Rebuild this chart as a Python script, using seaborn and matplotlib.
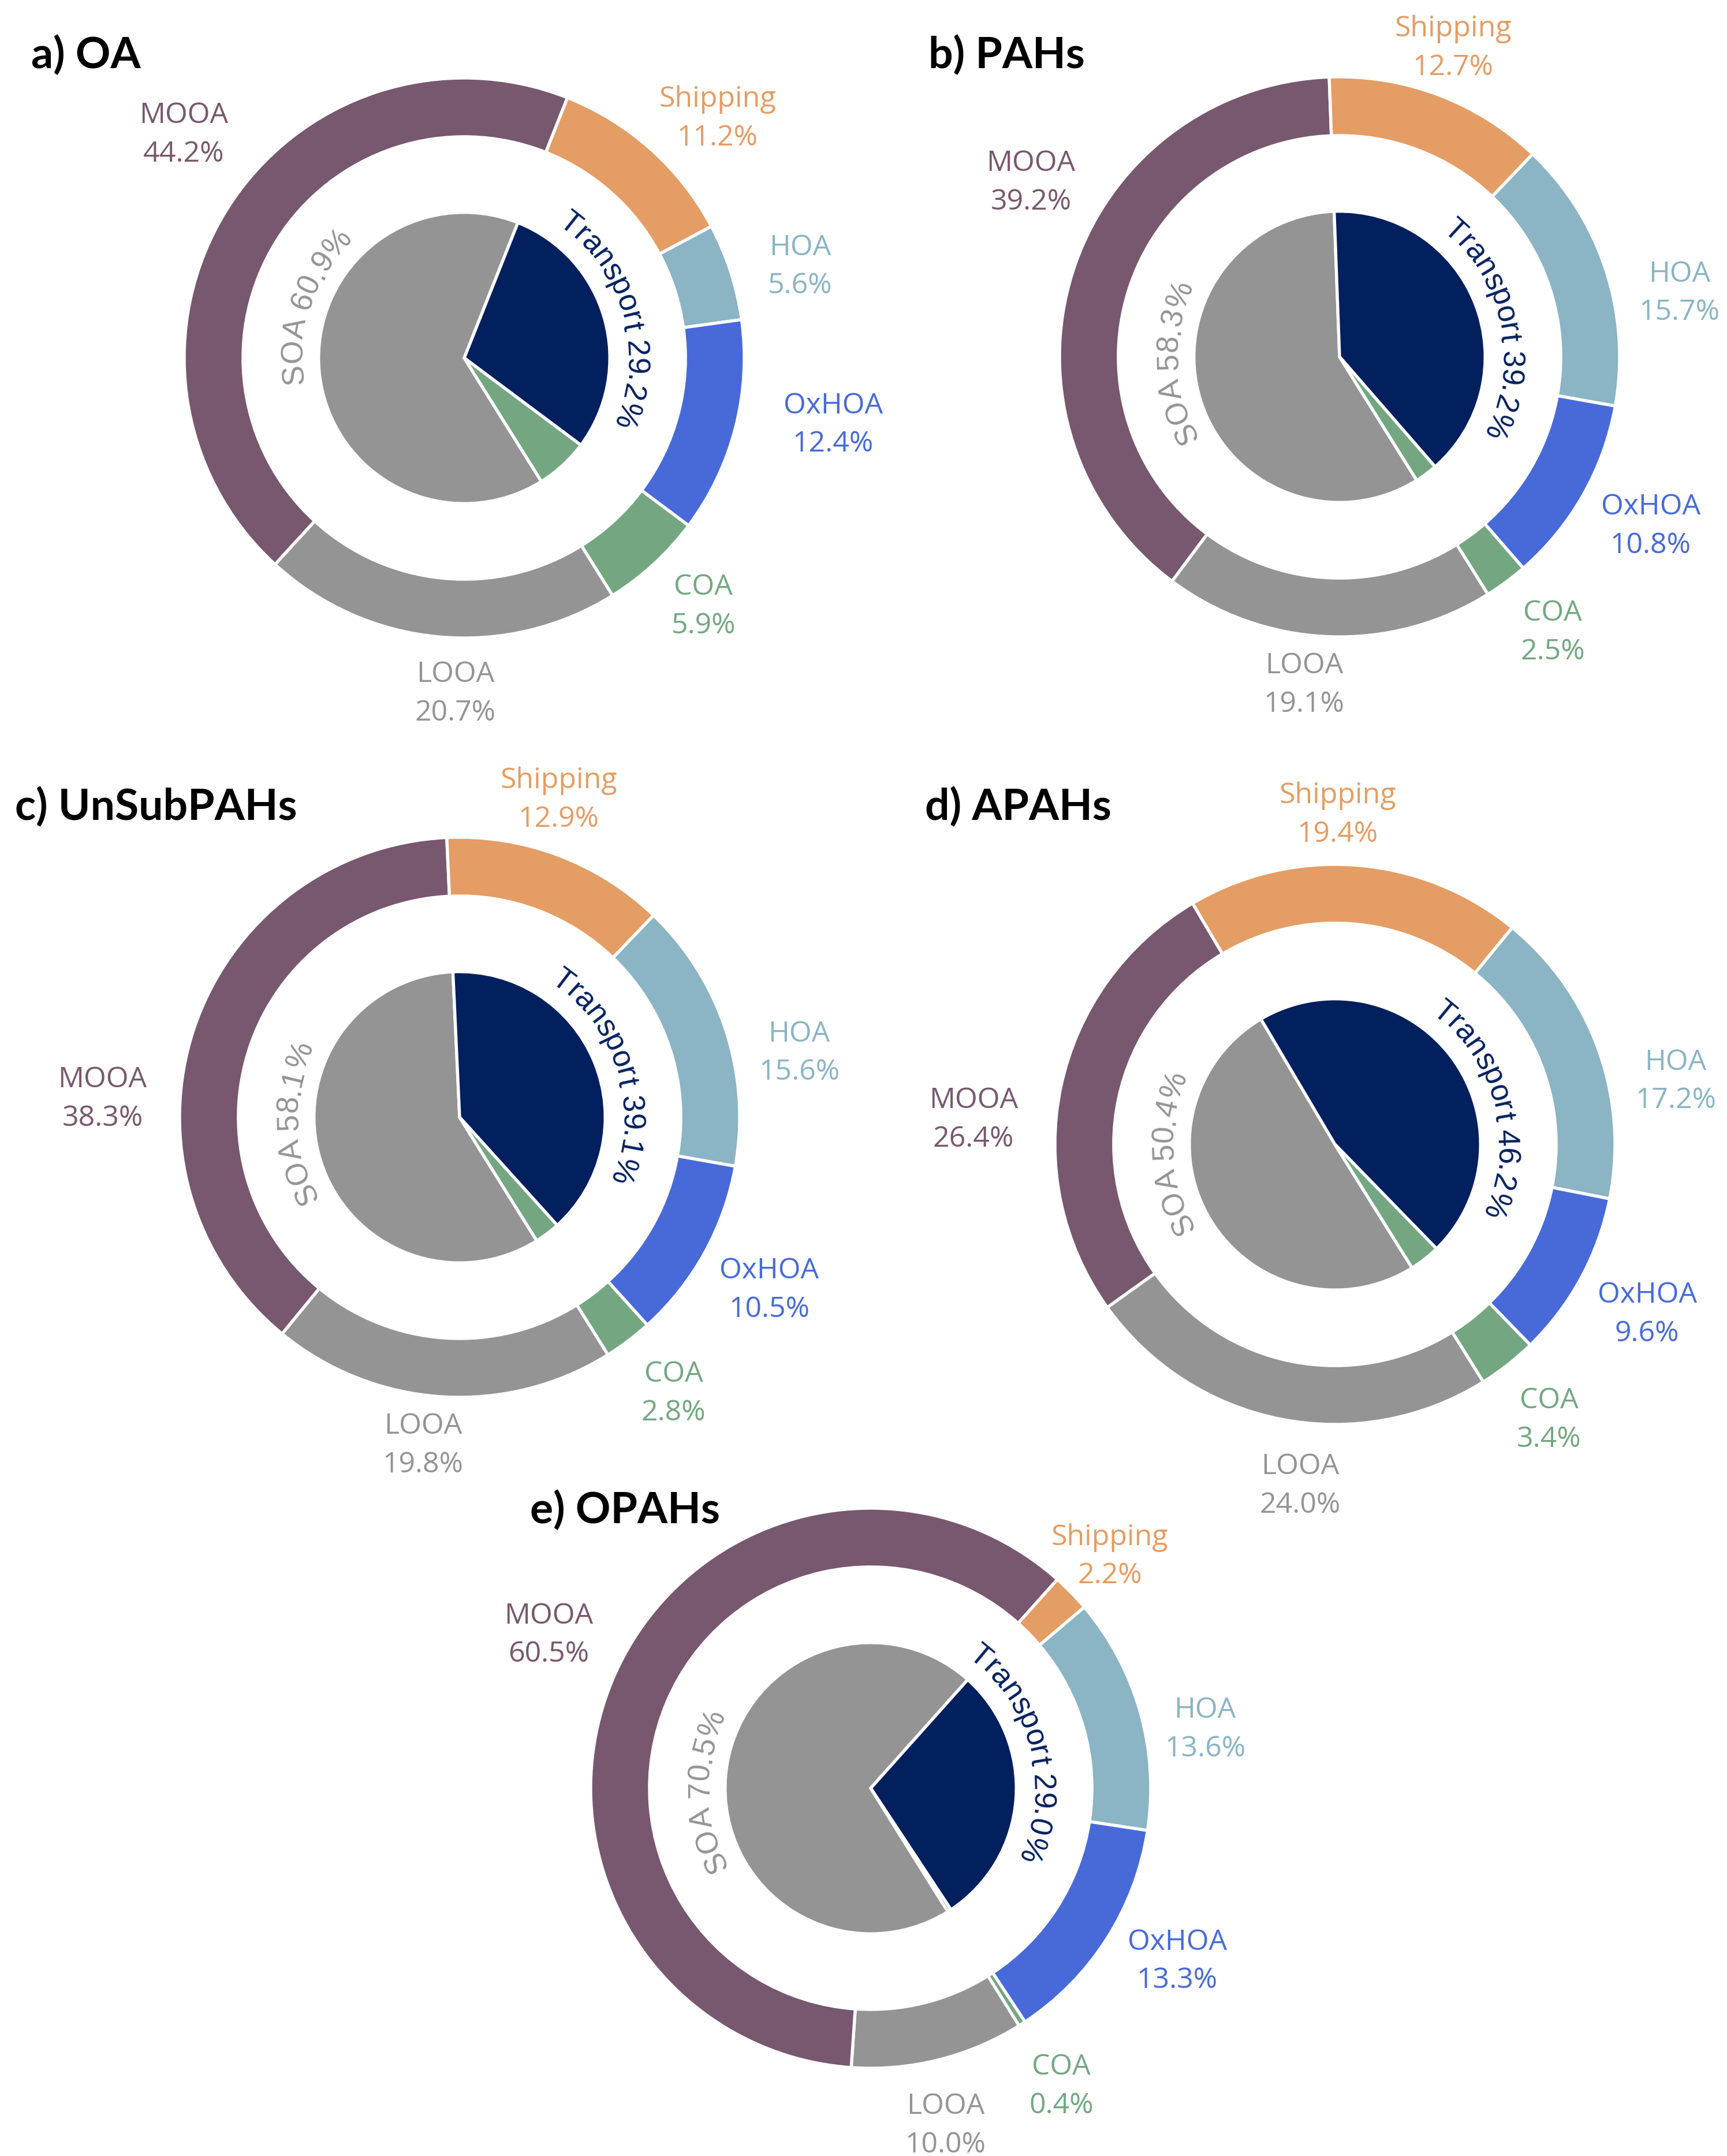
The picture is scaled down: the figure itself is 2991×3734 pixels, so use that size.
import numpy as np
import matplotlib
matplotlib.use("Agg")
import matplotlib.pyplot as plt
import seaborn as sns
from matplotlib import font_manager
from matplotlib.ft2font import FT2Font

# Data (percent contributions)
panel_titles = ["a) OA", "b) PAHs", "c) UnSubPAHs", "d) APAHs", "e) OPAHs"]
sources = ["LOOA", "MOOA", "Shipping", "HOA", "OxHOA", "COA"]
looa = [20.7, 19.1, 19.8, 24.0, 10.0]
mooa = [44.2, 39.2, 38.3, 26.4, 60.5]
shipping = [11.2, 12.7, 12.9, 19.4, 2.2]
hoa = [5.6, 15.7, 15.6, 17.2, 13.6]
oxhoa = [12.4, 10.8, 10.5, 9.6, 13.3]
coa = [5.9, 2.5, 2.8, 3.4, 0.4]
# totals written on the inner labels
transport_pct = [29.2, 39.2, 39.1, 46.2, 29.0]
soa_pct = [60.9, 58.3, 58.1, 50.4, 70.5]

# Colours
src_colors = sns.color_palette(["#949494", "#77586E", "#E49D64", "#8BB4C4", "#486AD8", "#74A781"])
transport_color = "#021F5E"
soa_color = "#949494"

# Layout (pixels, figure is 2991 x 3734)
W, H, DPI = 2991, 3734, 240
centers = [(804, 620), (2320, 618), (796, 1935), (2312, 1982), (1508, 3097)]
title_pos = [(54, 118), (1608, 118), (26, 1420), (1602, 1420), (918, 2638)]
# outer label (angle deg, distance in radii), order as `sources`
label_pos = [
    [(-91.5, 1.19), (141.2, 1.286), (43.7, 1.251), (15.6, 1.245), (-9.9, 1.337), (-45.8, 1.225)],
    [(-96.2, 1.17), (150.2, 1.27), (70.0, 1.183), (11.0, 1.236), (-28.2, 1.261), (-52.0, 1.237)],
    [(-96.4, 1.17), (176.7, 1.277), (72.8, 1.195), (11.1, 1.236), (-28.8, 1.262), (-52.0, 1.241)],
    [(-95.9, 1.217), (175.7, 1.295), (89.5, 1.185), (10.9, 1.239), (-28.2, 1.265), (-51.9, 1.239)],
    [(-77.4, 1.225), (154.2, 1.277), (44.4, 1.195), (10.4, 1.214), (-29.1, 1.253), (-57.2, 1.256)],
]
transport_angle = [15.4, 11.2, 16.6, 14.2, 14.0]
soa_angle = [161, 182, 182, 183, 181]

R = 485
ring_w = 0.21 * R
pie_r = 0.52 * R
text_r = 0.58 * R
start = -58
line_pitch = 66.7   # baseline to baseline of the two label lines (px)
cap_h = 35

sns.set_style("white")
plt.rcParams["font.family"] = ["Lato", "DejaVu Sans"]

label_font = ["Open Sans", "DejaVu Sans"]
curve_size = 15.8
curve_prop = font_manager.FontProperties(family="Liberation Sans", size=curve_size)
curve_font = FT2Font(font_manager.findfont(curve_prop))
curve_font.set_size(curve_size, 72)


def curved_text(ax, text, cx, cy, r, mid_deg, color):
    # place characters one by one along an arc, reading clockwise
    adv = np.array([curve_font.load_char(ord(c)).linearHoriAdvance / 65536 for c in text])
    adv = adv * DPI / 72
    th0 = np.radians(mid_deg) + adv.sum() / (2 * r)
    pos = np.cumsum(adv) - adv / 2
    for ch, s in zip(text, pos):
        th = th0 - s / r
        ax.text(cx + r * np.cos(th), cy + r * np.sin(th), ch,
                rotation=np.degrees(th) - 90, rotation_mode="anchor",
                ha="center", va="baseline", color=color,
                fontproperties=curve_prop, zorder=5)


fig = plt.figure(figsize=(W / DPI, H / DPI), dpi=DPI)
ax = fig.add_axes([0, 0, 1, 1])

for i, title in enumerate(panel_titles):
    cx, cy = centers[i][0], H - centers[i][1]
    outer = [looa[i], mooa[i], shipping[i], hoa[i], oxhoa[i], coa[i]]
    inner = [looa[i] + mooa[i], shipping[i] + hoa[i] + oxhoa[i], coa[i]]

    ax.pie(outer, radius=R, center=(cx, cy), startangle=start, counterclock=False,
           colors=src_colors,
           wedgeprops=dict(width=ring_w, edgecolor="white", linewidth=1.6))
    ax.pie(inner, radius=pie_r, center=(cx, cy), startangle=start, counterclock=False,
           colors=[soa_color, transport_color, src_colors[5]],
           wedgeprops=dict(edgecolor="white", linewidth=1.6))

    for j, name in enumerate(sources):
        ang, dist = label_pos[i][j]
        th = np.radians(ang)
        lx = cx + dist * R * np.cos(th)
        ly = cy + dist * R * np.sin(th)
        base1 = ly + (line_pitch - cap_h) / 2
        ax.text(lx, base1, name, ha="center", va="baseline",
                family=label_font, fontsize=15, color=src_colors[j])
        ax.text(lx, base1 - line_pitch, f"{outer[j]:.1f}%", ha="center", va="baseline",
                family=label_font, fontsize=15, color=src_colors[j])

    curved_text(ax, f"Transport {transport_pct[i]:.1f}%", cx, cy, text_r,
                transport_angle[i], transport_color)
    curved_text(ax, f"SOA {soa_pct[i]:.1f}%", cx, cy, text_r,
                soa_angle[i], soa_color)

    tx, ty = title_pos[i]
    ax.text(tx, H - ty, title, ha="left", va="baseline",
            fontsize=22.5, fontweight="bold", color="black")

ax.set_xlim(0, W)
ax.set_ylim(0, H)
ax.set_aspect("equal")
ax.axis("off")

fig.savefig("out.png", dpi=DPI)
